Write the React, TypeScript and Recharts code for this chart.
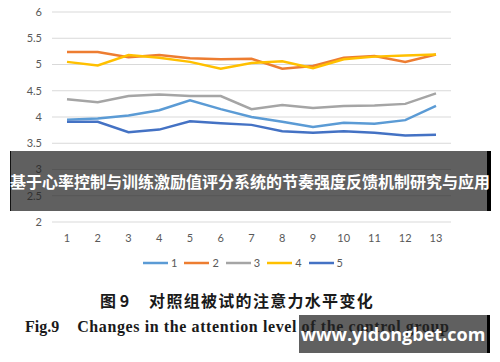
import React from 'react';
import { LineChart, Line, XAxis, YAxis, CartesianGrid, Legend } from 'recharts';

const categories = ['1', '2', '3', '4', '5', '6', '7', '8', '9', '10', '11', '12', '13'];
const series1 = [3.95, 3.97, 4.03, 4.13, 4.32, 4.15, 4.0, 3.91, 3.81, 3.89, 3.87, 3.94, 4.21];
const series2 = [5.24, 5.24, 5.14, 5.18, 5.12, 5.1, 5.11, 4.92, 4.97, 5.13, 5.16, 5.05, 5.19];
const series3 = [4.34, 4.28, 4.4, 4.43, 4.4, 4.4, 4.15, 4.23, 4.17, 4.21, 4.22, 4.25, 4.45];
const series4 = [5.05, 4.98, 5.18, 5.13, 5.05, 4.92, 5.03, 5.06, 4.93, 5.1, 5.15, 5.17, 5.19];
const series5 = [3.91, 3.91, 3.71, 3.76, 3.92, 3.88, 3.85, 3.73, 3.7, 3.73, 3.7, 3.65, 3.66];
const seriesNames = ['1', '2', '3', '4', '5'];
const seriesColors = ['#5B9BD5', '#ED7D31', '#A5A5A5', '#FFC000', '#4472C4'];
const yTicks = [2, 2.5, 3, 3.5, 4, 4.5, 5, 5.5, 6];

const bannerTitle = '基于心率控制与训练激励值评分系统的节奏强度反馈机制研究与应用';
const captionCn = '对照组被试的注意力水平变化';
const captionEn = 'Changes in the attention level of the control group';
const watermark = 'www.yidongbet.com';

const allSeries = [series1, series2, series3, series4, series5];
const data = categories.map((c, i) => {
  const row: Record<string, string | number> = { cat: c };
  allSeries.forEach((s, k) => {
    row['s' + (k + 1)] = s[i];
  });
  return row;
});

const tickStyle = { fontFamily: 'Lato, "Liberation Sans", sans-serif', fontSize: 11, fill: '#595959' };

const LegendContent = (props: any) => {
  const payload = props.payload || [];
  return (
    <div style={{ display: 'flex', justifyContent: 'center', alignItems: 'center', gap: 7, paddingRight: 14, fontFamily: 'Lato, sans-serif', fontSize: 11, color: '#595959' }}>
      {payload.map((p: any) => (
        <div key={p.value} style={{ display: 'flex', alignItems: 'center' }}>
          <svg width={25} height={6} style={{ marginRight: 3 }}>
            <line x1={0} y1={3} x2={25} y2={3} stroke={p.color} strokeWidth={2.5} />
          </svg>
          <span>{p.value}</span>
        </div>
      ))}
    </div>
  );
};

export default function App() {
  return (
    <div style={{ position: 'fixed', left: 0, top: 0, width: 500, height: 362, background: '#fff', overflow: 'hidden' }}>
      <div style={{ position: 'absolute', left: 0, top: 0 }}>
        <LineChart width={500} height={280} data={data} margin={{ top: 12, right: 49, bottom: 28, left: 0 }}>
          <CartesianGrid vertical={false} stroke="#D9D9D9" strokeWidth={1} />
          <XAxis
            dataKey="cat"
            axisLine={false}
            tickLine={false}
            tickSize={6}
            tickMargin={6}
            height={30}
            padding={{ left: 15, right: 15 }}
            tick={tickStyle}
            interval={0}
          />
          <YAxis
            domain={[2, 6]}
            ticks={yTicks}
            axisLine={false}
            tickLine={false}
            tickMargin={4}
            width={52}
            tick={tickStyle}
            interval={0}
          />
          <Legend
            layout="horizontal"
            verticalAlign="middle"
            align="center"
            wrapperStyle={{ top: 256, left: 0, width: 500 }}
            content={<LegendContent />}
          />
          {seriesNames.map((n, k) => (
            <Line
              key={n}
              dataKey={'s' + (k + 1)}
              name={n}
              stroke={seriesColors[k]}
              strokeWidth={2.5}
              dot={false}
              isAnimationActive={false}
            />
          ))}
        </LineChart>
      </div>
      <div
        style={{
          position: 'absolute',
          left: 10,
          top: 151,
          width: 481,
          height: 60,
          background: 'rgba(35,35,35,0.72)',
          borderLeft: '1px solid #111',
          borderRight: '4px solid #000',
          boxSizing: 'border-box',
        }}
      />
      <div
        style={{
          position: 'absolute',
          left: 0,
          top: 170,
          width: 500,
          height: 22,
          lineHeight: '22px',
          textAlign: 'center',
          color: '#fff',
          fontFamily: '"Noto Sans CJK SC", sans-serif',
          fontWeight: 700,
          fontSize: 16,
          whiteSpace: 'nowrap',
        }}
      >
        {bannerTitle}
      </div>
      <div
        style={{
          position: 'absolute',
          left: 100,
          top: 290,
          whiteSpace: 'nowrap',
          fontFamily: '"Noto Sans CJK SC", serif',
          fontWeight: 700,
          fontSize: 16,
          color: '#1a1a1a',
          lineHeight: '20px',
        }}
      >
        <span>图 9</span>
        <span style={{ marginLeft: 20, letterSpacing: 1.3 }}>{captionCn}</span>
      </div>
      <div
        style={{
          position: 'absolute',
          left: 25,
          top: 317,
          whiteSpace: 'nowrap',
          fontFamily: '"Liberation Serif", serif',
          fontWeight: 700,
          fontSize: 16,
          color: '#1a1a1a',
          lineHeight: '20px',
        }}
      >
        <span>Fig.9</span>
        <span style={{ marginLeft: 18, letterSpacing: 0.6 }}>{captionEn}</span>
      </div>
      <div
        style={{
          position: 'absolute',
          left: 299,
          top: 315,
          width: 191,
          height: 38,
          background: 'rgba(35,35,35,0.72)',
          borderRight: '3px solid #000',
          boxSizing: 'border-box',
          display: 'flex',
          alignItems: 'center',
          justifyContent: 'center',
          color: '#fff',
          fontFamily: '"Open Sans", sans-serif',
          fontWeight: 700,
          fontSize: 18,
          whiteSpace: 'nowrap',
        }}
      >
        {watermark}
      </div>
    </div>
  );
}
